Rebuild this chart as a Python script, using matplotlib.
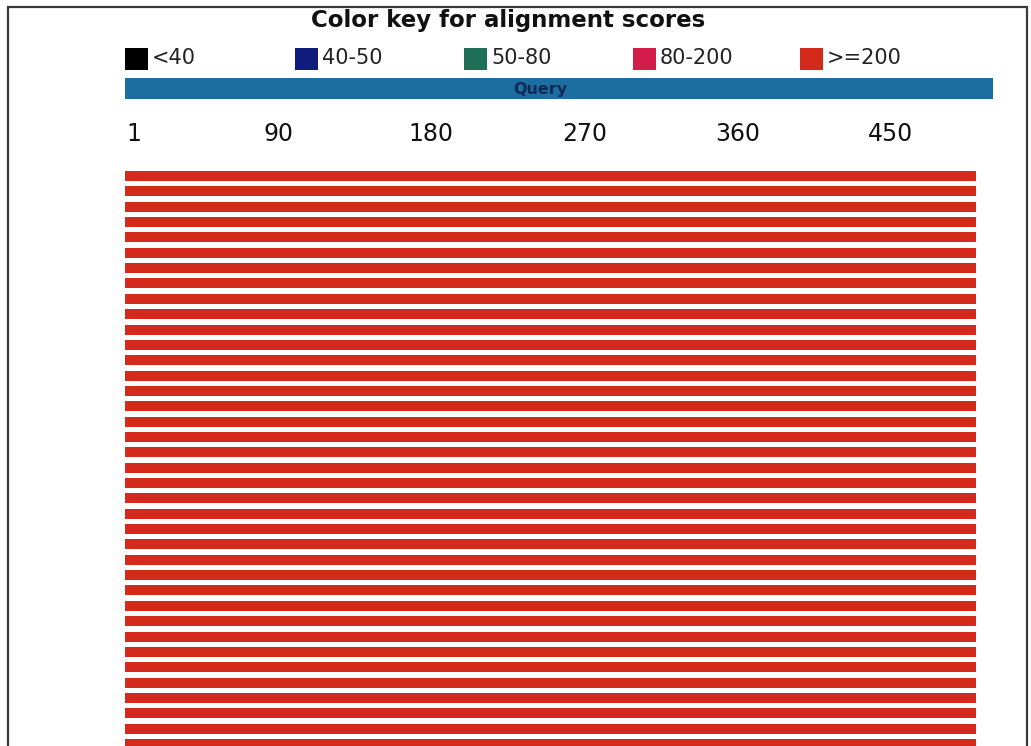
import matplotlib
matplotlib.use("Agg")
import matplotlib.pyplot as plt
from matplotlib.patches import Rectangle

# ---- data ----
legend_labels = ["<40", "40-50", "50-80", "80-200", ">=200"]
legend_colors = ["#000000", "#101c7c", "#1f6e57", "#d41c4a", "#d42a1c"]
query_length = 510
tick_values = [1, 90, 180, 270, 360, 450]
hit_starts = [1, 1, 1, 1, 1, 1, 1, 1, 1, 1, 1, 1, 1, 1, 1, 1, 1, 1, 1,
              1, 1, 1, 1, 1, 1, 1, 1, 1, 1, 1, 1, 1, 1, 1, 1, 1, 1, 1]
hit_ends = [501, 501, 501, 501, 501, 501, 501, 501, 501, 501, 501, 501, 501,
            501, 501, 501, 501, 501, 501, 501, 501, 501, 501, 501, 501, 501,
            501, 501, 501, 501, 501, 501, 501, 501, 501, 501, 501, 501]
hit_scores = [">=200"] * 38

W, H = 1031, 746
fig = plt.figure(figsize=(W / 100, H / 100), dpi=100)
fig.patch.set_facecolor("white")

def fx(px):
    return px / W

def fy(py):
    return 1 - py / H

# border frame
fig.patches.append(Rectangle((fx(8), fy(760)), fx(1027) - fx(8), fy(7) - fy(760),
                             transform=fig.transFigure, fill=False,
                             edgecolor="#3a3a3a", linewidth=1.6))

# title
fig.text(fx(508), fy(20), "Color key for alignment scores", ha="center", va="center",
         fontsize=16.5, fontweight="bold", color="#111111", family="DejaVu Sans")

# legend
sq_x = [125, 295, 464, 633, 800]
for x0, lab, col in zip(sq_x, legend_labels, legend_colors):
    fig.patches.append(Rectangle((fx(x0), fy(70)), 23 / W, 22 / H,
                                 transform=fig.transFigure, facecolor=col,
                                 edgecolor="none"))
    fig.text(fx(x0 + 27), fy(58), lab, ha="left", va="center", fontsize=15,
             color="#222222", family="DejaVu Sans")

# main axes: x in sequence coordinates, y in rows
left_px, right_px = 125, 993
row0_px, row_step = 176, 15.35
top_r = -row0_px / row_step
bot_r = (H - row0_px) / row_step
ax = fig.add_axes([fx(left_px), 0, (right_px - left_px) / W, 1])
ax.set_xlim(0, query_length)
ax.set_ylim(bot_r, top_r)
ax.axis("off")

# query bar
q_center = (88 - row0_px) / row_step
ax.barh([q_center], [query_length], left=0, height=21 / row_step,
        color="#1c6ea0", edgecolor="none")
ax.text(244, q_center + 0.12, "Query", ha="center", va="center",
        fontsize=11.5, fontweight="bold", color="#0d2a55")

# ticks labels
lab_r = (134 - row0_px) / row_step
for tv in tick_values:
    ax.text(tv + (4 if tv == 1 else 0), lab_r, str(tv), ha="center", va="center",
            fontsize=17, color="#111111")

# hits
color_map = dict(zip(legend_labels, legend_colors))
rows = list(range(len(hit_starts)))
ax.barh(rows, [e - s for s, e in zip(hit_starts, hit_ends)],
        left=[s - 1 for s in hit_starts], height=10 / row_step,
        color=[color_map[s] for s in hit_scores], edgecolor="none")

fig.savefig("out.png", dpi=100, facecolor="white")
